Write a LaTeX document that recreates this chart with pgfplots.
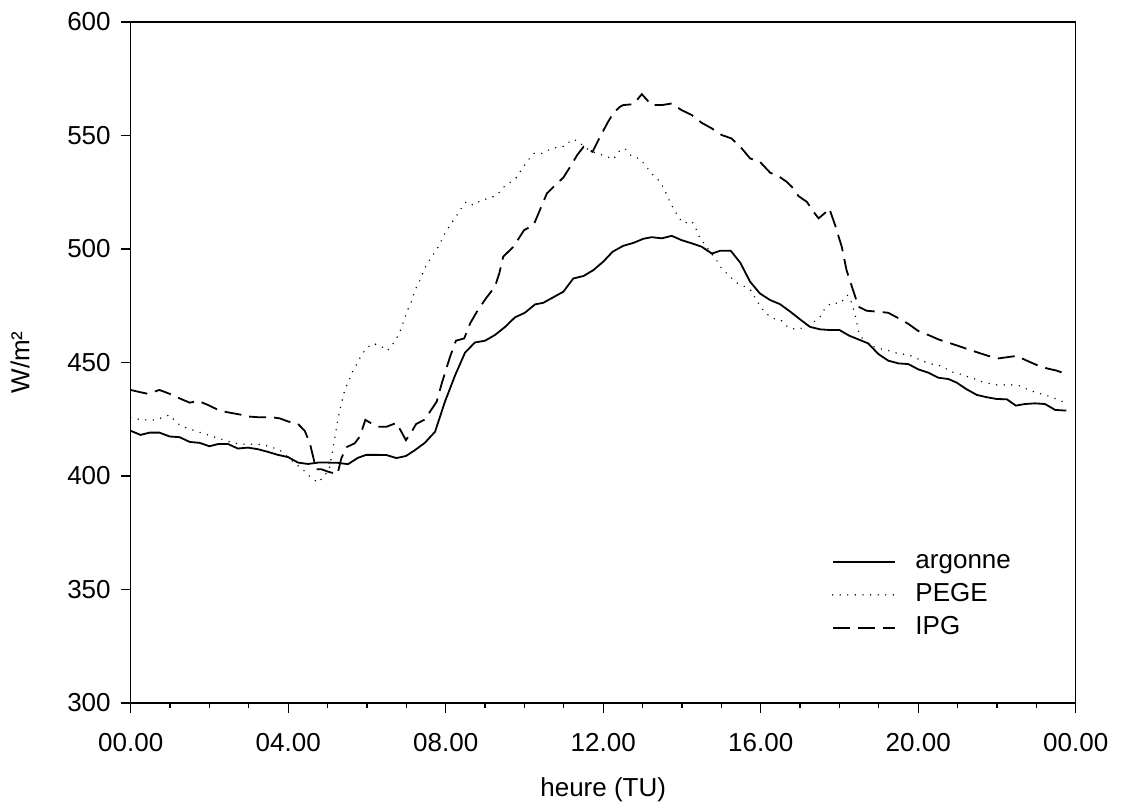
\documentclass[border=0pt]{standalone}
\usepackage{fontspec}
\setmainfont{Liberation Sans}
\usepackage{pgfplots}
\pgfplotsset{compat=1.18}
\begin{document}
\begin{tikzpicture}
\path[use as bounding box] (0,0) rectangle (560.5pt,403.5pt);
\begin{axis}[
  at={(65.35pt,52pt)}, anchor=south west,
  scale only axis, width=472.5pt, height=340.5pt,
  xmin=0, xmax=24, ymin=300, ymax=600,
  xtick={0,4,8,12,16,20,24},
  xticklabels={00.00,04.00,08.00,12.00,16.00,20.00,00.00},
  minor x tick num=3,
  ytick={300,350,400,450,500,550,600},
  /pgf/number format/assume math mode=true,
  tick align=outside, xtick pos=bottom, ytick pos=left,
  major tick length=5pt, minor tick length=2.5pt,
  every tick/.style={black, line width=0.6pt},
  axis line style={line width=0.65pt},
  tick label style={font=\fontsize{13}{15}\selectfont},
  xticklabel style={yshift=-6.5pt},
  yticklabel style={xshift=-1.5pt},
  label style={font=\fontsize{13}{15}\selectfont},
  xlabel={heure (TU)},
  ylabel={W/m²},
  xlabel style={at={(axis description cs:0.5,-0.128)}, anchor=center},
  ylabel style={at={(axis description cs:-0.117,0.5)}, anchor=center},
  legend image code/.code={\draw[#1] (0pt,0pt) -- (31pt,0pt);},
  legend style={draw=none, fill=none, at={(axis description cs:0.735,0.232)}, anchor=north west,
    font=\fontsize{13}{15}\selectfont, row sep=4pt, column sep=10pt,
    nodes={inner sep=0pt, text height=9.5pt, text depth=3pt}},
  legend cell align=left,
]
\addplot[black, line width=0.9pt] coordinates {
(0,419.9) (0.25,418.1) (0.48,419.1) (0.73,419.1) (0.99,417.4) (1.24,417.1) (1.5,415.0) (1.75,414.6) (2.0,413.1) (2.23,414.1) (2.47,414.1) (2.72,412.1) (2.98,412.5) (3.23,411.8) (3.49,410.6) (3.74,409.3) (4.0,408.3) (4.25,405.9) (4.5,405.3) (4.76,405.9) (5.01,405.9) (5.26,405.8) (5.52,405.2) (5.77,408.0) (5.98,409.3) (6.28,409.3) (6.5,409.2) (6.75,407.9) (6.99,408.8) (7.22,411.4) (7.47,414.6) (7.73,419.5) (7.98,432.7) (8.24,444.4) (8.49,454.3) (8.74,458.8) (9.0,459.6) (9.25,462.1) (9.51,465.7) (9.76,469.9) (10.01,471.9) (10.27,475.6) (10.48,476.3) (10.73,478.7) (10.99,481.2) (11.24,487.0) (11.5,488.1) (11.75,490.7) (12.0,494.4) (12.24,498.8) (12.51,501.4) (12.77,502.7) (13.02,504.5) (13.23,505.2) (13.49,504.7) (13.74,505.8) (13.99,503.9) (14.25,502.5) (14.5,501.0) (14.76,498.0) (14.97,499.2) (15.24,499.2) (15.48,494.0) (15.73,485.6) (15.98,480.4) (16.24,477.5) (16.49,475.7) (16.75,472.4) (17.0,469.0) (17.25,465.7) (17.51,464.6) (17.76,464.3) (18.0,464.3) (18.25,461.8) (18.52,459.9) (18.73,458.4) (18.99,453.7) (19.24,450.8) (19.5,449.6) (19.75,449.3) (20.0,447.0) (20.26,445.5) (20.51,443.3) (20.77,442.7) (20.98,441.1) (21.23,438.2) (21.49,435.7) (21.74,434.7) (22.0,433.9) (22.25,433.8) (22.48,431.0) (22.71,431.7) (22.97,432.0) (23.22,431.7) (23.48,429.1) (23.76,428.8)
};
\addlegendentry{argonne}
\addplot[black, line width=0.8pt, line cap=round, dash pattern=on 0pt off 3.8pt] coordinates {
(0,425.7) (0.2,425.0) (0.4,424.7) (0.61,424.7) (0.8,425.7) (0.99,426.9) (1.18,423.2) (1.37,421.5) (1.57,420.3) (1.77,419.1) (1.96,418.1) (2.17,416.9) (2.37,415.9) (2.57,414.7) (2.77,414.1) (2.97,414.0) (3.17,414.0) (3.37,413.7) (3.57,412.7) (3.78,411.5) (3.98,408.5) (4.17,405.6) (4.38,402.7) (4.57,399.4) (4.76,397.1) (4.94,400.5) (5.05,403.4) (5.16,414.4) (5.26,424.7) (5.35,432.0) (5.45,438.7) (5.54,441.6) (5.62,445.6) (5.73,448.9) (5.84,452.6) (5.98,456.3) (6.16,458.4) (6.35,457.2) (6.52,455.2) (6.67,458.4) (6.8,462.1) (6.88,465.4) (7.01,472.3) (7.11,476.0) (7.24,482.6) (7.35,486.3) (7.43,490.0) (7.53,493.6) (7.66,496.9) (7.79,500.2) (7.98,506.9) (8.11,510.5) (8.26,514.2) (8.38,517.6) (8.52,520.8) (8.7,519.3) (8.91,521.5) (9.1,522.3) (9.3,523.7) (9.46,527.1) (9.63,529.2) (9.8,531.5) (9.93,535.1) (10.06,538.4) (10.24,542.1) (10.46,542.1) (10.65,543.9) (10.86,545.0) (11.03,545.3) (11.2,548.3) (11.34,547.7) (11.54,544.7) (11.73,542.8) (11.92,541.7) (12.11,540.6) (12.26,539.5) (12.38,542.8) (12.55,544.3) (12.72,540.9) (12.94,539.6) (13.06,537.0) (13.21,533.6) (13.4,530.4) (13.53,527.1) (13.63,523.3) (13.71,520.1) (13.82,516.8) (13.93,513.5) (14.05,511.3) (14.25,512.3) (14.35,509.1) (14.44,505.4) (14.59,501.7) (14.88,495.1) (15.01,491.4) (15.2,488.1) (15.39,485.1) (15.6,483.4) (15.77,481.6) (15.86,478.2) (16.11,471.9) (16.31,469.4) (16.51,468.7) (16.7,465.4) (16.9,464.6) (17.1,465.4) (17.3,467.2) (17.51,470.1) (17.63,473.8) (17.8,476.3) (18.02,476.0) (18.2,479.7) (18.28,477.8) (18.4,470.9) (18.48,464.0) (18.6,460.0) (18.8,457.5) (18.99,456.2) (19.2,455.5) (19.41,454.3) (19.62,453.7) (19.83,452.9) (20.05,451.1) (20.22,449.9) (20.43,448.9) (20.6,448.5) (20.81,446.0) (21.02,445.2) (21.19,444.1) (21.4,443.0) (21.61,441.6) (21.78,440.8) (22.0,440.1) (22.21,440.1) (22.42,440.1) (22.59,439.7) (22.8,437.9) (23.01,436.7) (23.22,435.7) (23.39,434.7) (23.6,433.2) (23.76,432.3)
};
\addlegendentry{PEGE}
\addplot[black, line width=0.9pt, dash pattern=on 8.5pt off 4pt] coordinates {
(0,437.9) (0.22,437.0) (0.44,436.2) (0.73,437.9) (0.99,436.2) (1.24,434.2) (1.5,432.3) (1.71,433.1) (1.96,431.3) (2.26,428.8) (2.51,427.9) (2.77,427.1) (2.98,426.2) (3.23,425.9) (3.57,425.9) (3.78,425.4) (4.0,424.0) (4.25,422.9) (4.42,419.9) (4.55,414.4) (4.71,403.0) (4.84,403.0) (5.01,401.9) (5.25,400.8) (5.35,407.8) (5.48,412.7) (5.69,414.4) (5.82,417.4) (5.96,424.7) (6.11,423.2) (6.29,421.7) (6.5,421.7) (6.75,423.4) (6.99,415.8) (7.11,418.8) (7.25,422.9) (7.47,424.9) (7.6,428.3) (7.77,432.7) (7.9,440.8) (8.11,452.5) (8.26,459.6) (8.47,460.6) (8.62,467.2) (8.79,472.3) (9.02,478.2) (9.25,483.4) (9.36,489.2) (9.46,496.6) (9.72,501.0) (9.99,508.3) (10.23,510.5) (10.35,515.4) (10.57,524.5) (10.78,528.1) (10.99,531.5) (11.16,536.2) (11.34,541.4) (11.5,545.0) (11.73,542.8) (11.92,549.4) (12.11,555.6) (12.26,560.0) (12.43,562.7) (12.51,563.4) (12.77,563.8) (12.98,568.2) (13.23,563.4) (13.49,563.4) (13.74,564.1) (13.99,561.2) (14.25,559.0) (14.5,555.6) (14.76,553.1) (15.01,550.2) (15.26,548.7) (15.52,544.3) (15.73,539.9) (15.98,538.4) (16.24,533.6) (16.45,532.1) (16.66,529.6) (16.79,527.4) (16.96,523.3) (17.17,520.8) (17.34,516.4) (17.47,513.5) (17.62,515.7) (17.74,517.9) (17.89,510.5) (18.06,500.9) (18.18,490.7) (18.29,484.8) (18.4,479.0) (18.48,474.6) (18.69,472.8) (18.95,472.4) (19.24,471.9) (19.5,469.5) (19.75,467.0) (20.0,463.9) (20.26,462.1) (20.51,460.2) (20.77,458.7) (21.02,457.3) (21.27,455.8) (21.53,454.3) (21.78,452.9) (22.04,451.8) (22.25,452.3) (22.5,452.9) (22.76,450.8) (23.01,448.9) (23.27,447.4) (23.52,446.4) (23.76,444.9)
};
\addlegendentry{IPG}
\end{axis}
\end{tikzpicture}
\end{document}
